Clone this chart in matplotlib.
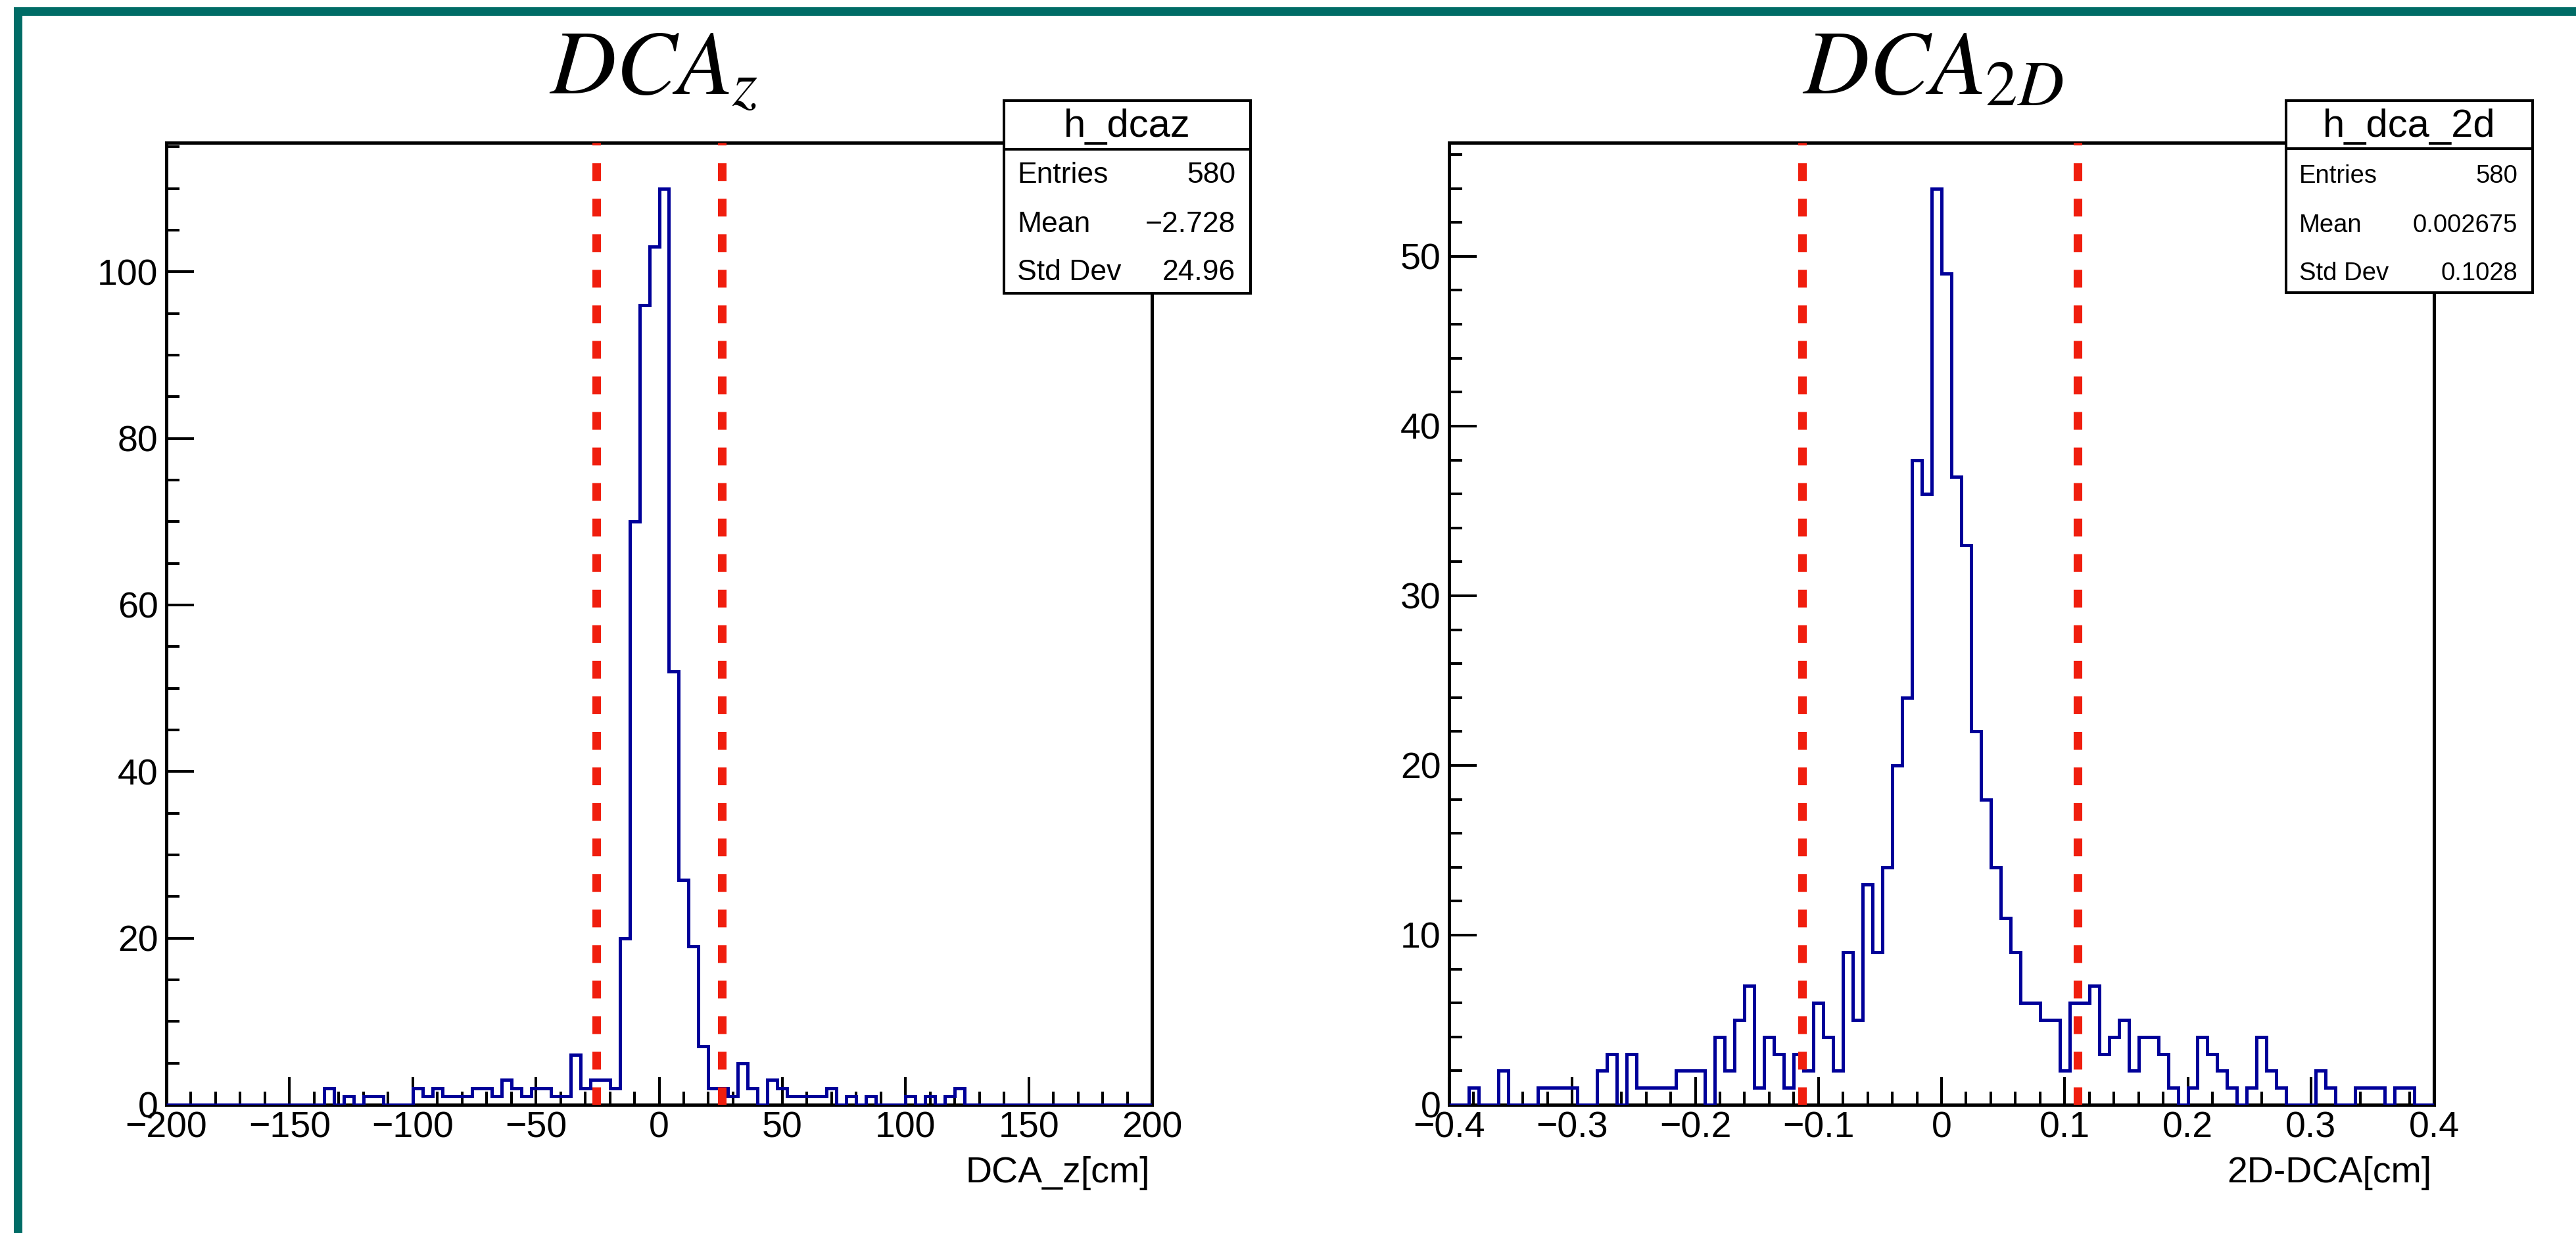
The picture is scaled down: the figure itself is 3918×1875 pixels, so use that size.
import numpy as np
import matplotlib.pyplot as plt
from matplotlib.patches import Rectangle
from matplotlib.lines import Line2D
from matplotlib.ticker import MultipleLocator, FuncFormatter

# histogram contents (100 bins each)
dcaz_range = (-200, 200)
dcaz_counts = [0] * 16 + [
    2, 0, 1, 0, 1, 1, 0, 0, 0,
    2, 1, 2, 1, 1, 1, 2, 2, 1, 3, 2, 1, 2, 2, 1, 1, 6, 2, 3, 3, 2,
    20, 70, 96, 103, 110, 52, 27, 19, 7,
    2, 2, 1, 5, 2, 0, 3, 2, 1, 1, 1, 1, 2, 0, 1, 0, 1, 0, 0, 0, 1, 0, 1, 0, 1, 2,
] + [0] * 19

dca2d_range = (-0.4, 0.4)
dca2d_counts = [
    0, 0, 1, 0, 0, 2, 0, 0, 0, 1, 1, 1, 1, 0, 0, 2, 3, 0, 3, 1,
    1, 1, 1, 2, 2, 2, 0, 4, 2, 5, 7, 1, 4, 3, 1, 3, 2, 6, 4, 2,
    9, 5, 13, 9, 14, 20, 24, 38, 36, 54, 49, 37, 33, 22, 18, 14, 11, 9, 6, 6,
    5, 5, 2, 6, 6, 7, 3, 4, 5, 2, 4, 4, 3, 1, 0, 1, 4, 3, 2, 1,
    0, 1, 4, 2, 1, 0, 0, 0, 2, 1, 0, 0, 1, 1, 1, 0, 1, 1, 0, 0,
]

dcaz_cuts = [-25.5, 25.6]
dca2d_cuts = [-0.113, 0.1105]

dcaz_stats = [("Entries", "580"), ("Mean", "\u22122.728"), ("Std Dev", "24.96")]
dca2d_stats = [("Entries", "580"), ("Mean", "0.002675"), ("Std Dev", "0.1028")]

W, H = 3918, 1875
plt.rcParams['font.family'] = ['Liberation Sans', 'DejaVu Sans']
plt.rcParams['mathtext.fontset'] = 'stix'

fig = plt.figure(figsize=(W / 100, H / 100), dpi=100)
fig.patch.set_facecolor('white')


def fx(x):
    return x / W


def fy(y):
    return 1 - y / H


# teal frame (left and top)
teal = '#006c66'
fig.add_artist(Rectangle((fx(21), 0), fx(34) - fx(21), fy(11), transform=fig.transFigure,
                         facecolor=teal, edgecolor='none', zorder=20))
fig.add_artist(Rectangle((fx(21), fy(24)), 1 - fx(21), fy(11) - fy(24), transform=fig.transFigure,
                         facecolor=teal, edgecolor='none', zorder=20))


def tick_fmt(v, pos):
    if abs(v) < 1e-9:
        return '0'
    return f'{v:g}'.replace('-', '\u2212')


def draw_panel(x0, x1, counts, rng, ymax, cuts, xmaj, xmin, ymaj, ymin,
               title, title_x, xlabel, hname, stats, box, stat_size):
    ax = fig.add_axes([fx(x0), fy(1680), fx(x1) - fx(x0), fy(217) - fy(1680)])
    edges = np.linspace(rng[0], rng[1], len(counts) + 1)
    ax.stairs(counts, edges, color='#000099', linewidth=3.6, zorder=3)
    for c in cuts:
        ax.axvline(c, color='#f01e0e', linewidth=9.4, linestyle=(0, (2.07, 2.07)), zorder=4)
    ax.set_xlim(rng)
    ax.set_ylim(0, ymax)
    for s in ax.spines.values():
        s.set_linewidth(3.6)
    ax.xaxis.set_major_locator(MultipleLocator(xmaj))
    ax.xaxis.set_minor_locator(MultipleLocator(xmin))
    ax.yaxis.set_major_locator(MultipleLocator(ymaj))
    ax.yaxis.set_minor_locator(MultipleLocator(ymin))
    ax.xaxis.set_major_formatter(FuncFormatter(tick_fmt))
    ax.yaxis.set_major_formatter(FuncFormatter(tick_fmt))
    ax.tick_params(which='both', direction='in', top=False, right=False, width=2.9)
    ax.tick_params(which='major', length=30, labelsize=40)
    ax.tick_params(which='minor', length=14.5)
    ax.tick_params(axis='x', which='major', pad=7)
    ax.tick_params(axis='y', which='major', pad=9)

    fig.text(fx(title_x), fy(143), title, ha='center', va='baseline', fontsize=100)
    fig.text(fx(x1 - 3), fy(1798), xlabel, ha='right', va='baseline', fontsize=40)

    # stats box
    bx0, bx1, by0, by1, bsep = box
    fig.add_artist(Rectangle((fx(bx0), fy(by1)), fx(bx1) - fx(bx0), fy(by0) - fy(by1),
                             transform=fig.transFigure, facecolor='white', edgecolor='black',
                             linewidth=2.9, zorder=10))
    fig.add_artist(Line2D([fx(bx0), fx(bx1)], [fy(bsep), fy(bsep)], transform=fig.transFigure,
                          color='black', linewidth=2.9, zorder=11))
    fig.text(fx((bx0 + bx1) / 2), fy(208), hname, ha='center', va='baseline',
             fontsize=43, zorder=12)
    for (lab, val), yb in zip(stats, [278, 353, 426]):
        fig.text(fx(bx0 + 20), fy(yb), lab, ha='left', va='baseline', fontsize=stat_size, zorder=12)
        fig.text(fx(bx1 - 23), fy(yb), val, ha='right', va='baseline', fontsize=stat_size, zorder=12)
    return ax


draw_panel(253, 1752, dcaz_counts, dcaz_range, 115.5, dcaz_cuts, 50, 10, 20, 5,
           r'$DCA_{z}$', 994, 'DCA_z[cm]', 'h_dcaz', dcaz_stats,
           (1527, 1902, 153, 446, 227), 32)
draw_panel(2204, 3702, dca2d_counts, dca2d_range, 56.7, dca2d_cuts, 0.1, 0.02, 10, 2,
           r'$DCA_{2D}$', 2940, '2D-DCA[cm]', 'h_dca_2d', dca2d_stats,
           (3477, 3852, 153, 445, 226), 27.5)

fig.savefig('out.png', dpi=100)
